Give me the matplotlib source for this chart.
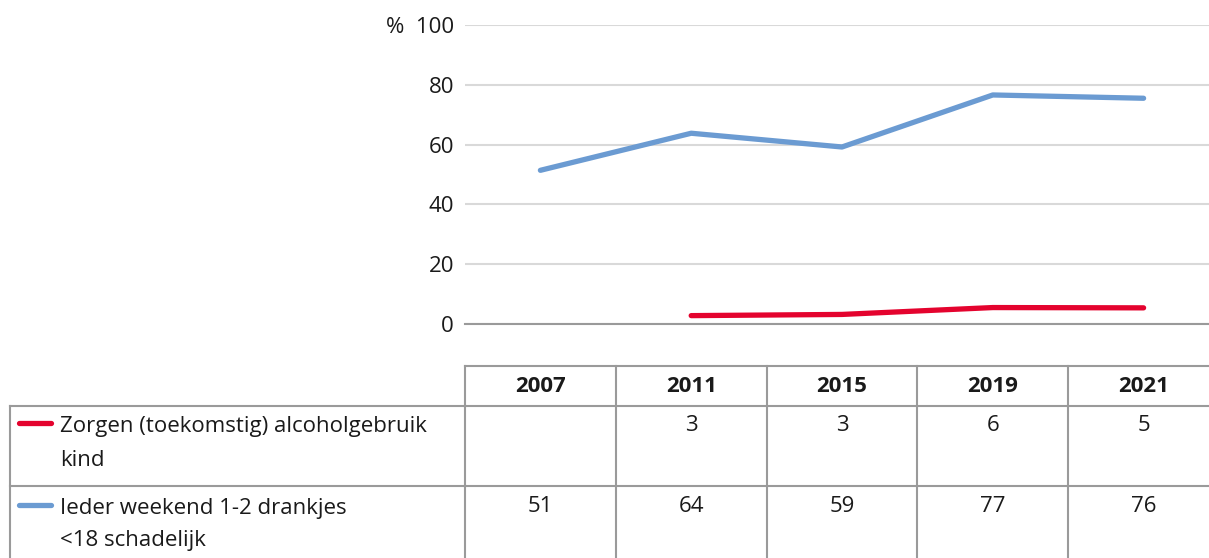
import numpy as np
import matplotlib
matplotlib.use("Agg")
import matplotlib.pyplot as plt
from matplotlib.transforms import blended_transform_factory
from matplotlib.lines import Line2D

plt.rcParams['font.family'] = ['Open Sans', 'DejaVu Sans']

years = ["2007", "2011", "2015", "2019", "2021"]
zorgen = [np.nan, 2.8, 3.2, 5.5, 5.4]
weekend = [51.4, 63.8, 59.2, 76.6, 75.5]
zorgen_labels = ["", "3", "3", "6", "5"]
weekend_labels = ["51", "64", "59", "77", "76"]
series_names = [["Zorgen (toekomstig) alcoholgebruik", "kind"],
                ["Ieder weekend 1-2 drankjes", "<18 schadelijk"]]
yticks = [0, 20, 40, 60, 80, 100]
ytick_labels = ["0", "20", "40", "60", "80", "%  100"]

RED = "#e4032e"
BLUE = "#6b9bd2"
GRID = "#d9d9d9"
TBL = "#9a9a9a"
TXT = "#1a1a1a"
FS = 16

W, H = 1209, 558
fig = plt.figure(figsize=(W / 100, H / 100), dpi=100)

def fy(p):
    return 1 - p / H

# plot area extends slightly beyond the right edge of the image (cropped)
ax_right = 1219
ax = fig.add_axes([465 / W, fy(324), (ax_right - 465) / W, fy(25) - fy(324)])
x = np.arange(len(years))
ax.plot(x, weekend, color=BLUE, lw=3.8, solid_capstyle="round", zorder=3)
ax.plot(x, zorgen, color=RED, lw=3.8, solid_capstyle="round", zorder=3)
ax.set_xlim(-0.5, len(years) - 0.5)
ax.set_ylim(0, 100)
ax.set_yticks(yticks)
ax.set_yticklabels(ytick_labels, fontsize=FS, color=TXT)
ax.set_xticks([])
ax.tick_params(axis="y", length=0, pad=8)
ax.grid(axis="y", color=GRID, lw=1.5)
ax.set_axisbelow(True)
for s in ["top", "right", "left"]:
    ax.spines[s].set_visible(False)
ax.spines["bottom"].set_color(TBL)
ax.spines["bottom"].set_linewidth(1.5)

# table
tr = blended_transform_factory(ax.transData, fig.transFigure)
trp = fig.transFigure
y_top, y_r1, y_r2, y_bot = 366, 406, 486, 558
lk = dict(color=TBL, lw=1.5, clip_on=False)
n = len(years)
for yy in [y_top, y_r1, y_r2]:
    fig.add_artist(Line2D([-0.5, n - 0.5], [fy(yy), fy(yy)], transform=tr, **lk))
for yy in [y_r1, y_r2]:
    fig.add_artist(Line2D([10 / W, 465 / W], [fy(yy), fy(yy)], transform=trp, **lk))
fig.add_artist(Line2D([10 / W, 10 / W], [fy(y_r1), fy(y_bot)], transform=trp, **lk))
for i in range(n):
    fig.add_artist(Line2D([i - 0.5, i - 0.5], [fy(y_top), fy(y_bot)], transform=tr, **lk))

for i, yr in enumerate(years):
    fig.text(i, fy(392), yr, transform=tr, ha="center", va="baseline",
             fontsize=FS, fontweight="bold", color=TXT)
    fig.text(i, fy(431), zorgen_labels[i], transform=tr, ha="center", va="baseline",
             fontsize=FS, color=TXT)
    fig.text(i, fy(512), weekend_labels[i], transform=tr, ha="center", va="baseline",
             fontsize=FS, color=TXT)

for (names, col, ly, b1, b2) in [(series_names[0], RED, 423, 432, 466),
                                  (series_names[1], BLUE, 505, 514, 546)]:
    fig.add_artist(Line2D([19 / W, 51 / W], [fy(ly), fy(ly)], transform=trp,
                          color=col, lw=3.8, solid_capstyle="round"))
    fig.text(60 / W, fy(b1), names[0], ha="left", va="baseline", fontsize=FS, color=TXT)
    fig.text(60 / W, fy(b2), names[1], ha="left", va="baseline", fontsize=FS, color=TXT)

fig.savefig("out.png", dpi=100)
